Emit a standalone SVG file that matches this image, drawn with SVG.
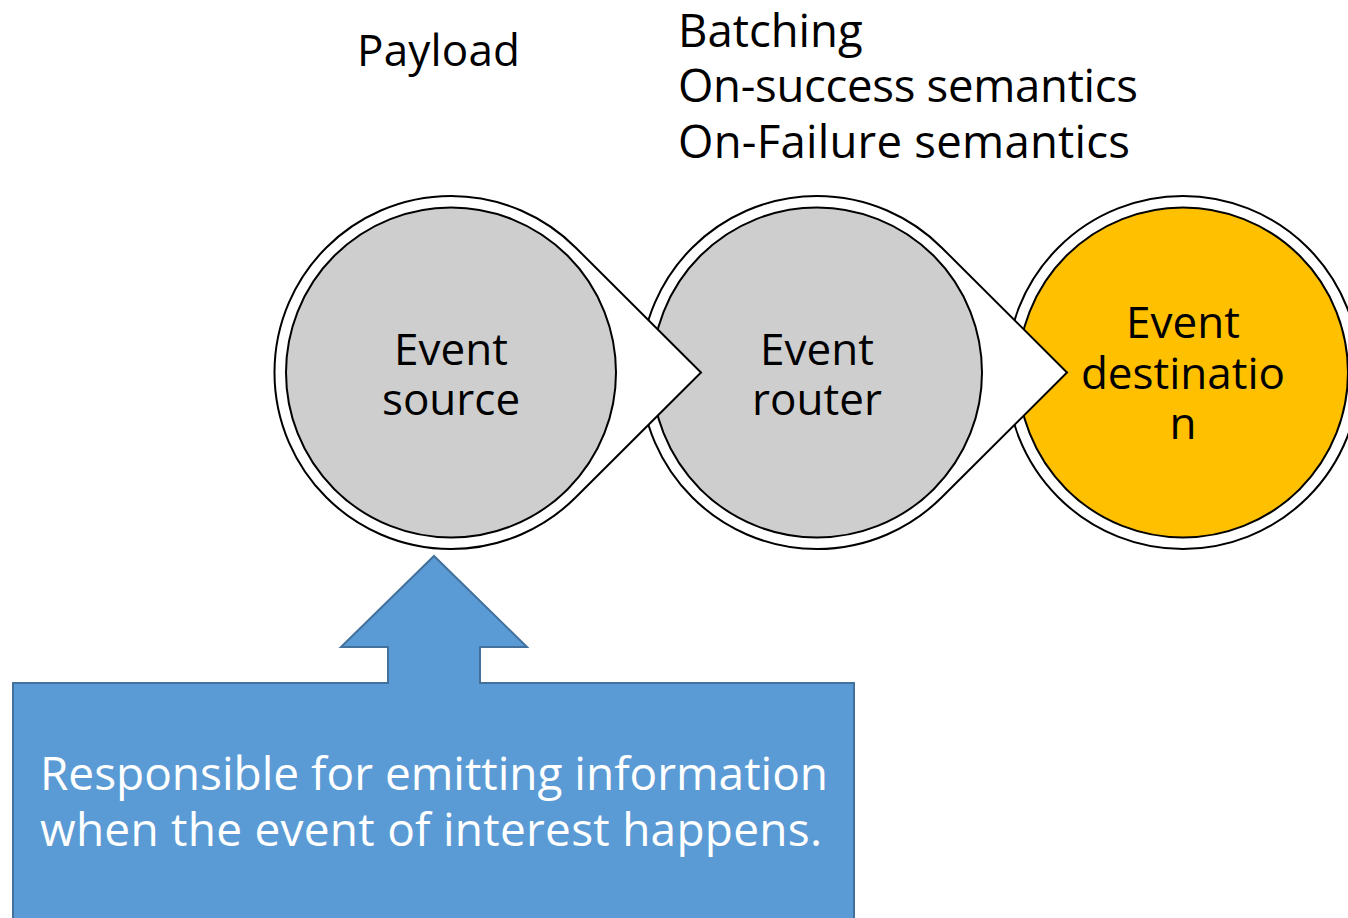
<svg xmlns="http://www.w3.org/2000/svg" width="1348" height="918" viewBox="0 0 1348 918">
<style>
.ring{fill:#ffffff;stroke:#000000;stroke-width:2}
.inner{stroke:#000000;stroke-width:2}
.gray{fill:#cecece}
.gold{fill:#ffc000}
.t{font-family:"Open Sans","Liberation Sans",sans-serif;font-size:44px;fill:#000000}
.top{font-size:45.5px}
.c{text-anchor:middle}
.w{fill:#ffffff;font-size:46px}
</style>
<rect width="1348" height="918" fill="#ffffff"/>
<g id="labels">
<text class="t" x="357" y="66" textLength="163">Payload</text>
<text class="t top" x="678" y="47">Batching</text>
<text class="t top" x="678" y="102" textLength="460">On-success semantics</text>
<text class="t top" x="678" y="158" textLength="452">On-Failure semantics</text>
</g>
<g id="node-destination">
<circle class="ring" cx="1183" cy="372.5" r="176.5"/>
<circle class="inner gold" cx="1183" cy="372.5" r="165"/>
<text class="t c" x="1183" y="338">Event</text>
<text class="t c" x="1183" y="389">destinatio</text>
<text class="t c" x="1183" y="439">n</text>
</g>
<g id="node-router">
<path class="ring" d="M941.8,247.7 L1067,372.5 L941.8,497.3 A176.5,176.5 0 1 1 941.8,247.7 Z"/>
<circle class="inner gray" cx="817" cy="372.5" r="165"/>
<text class="t c" x="817" y="365">Event</text>
<text class="t c" x="817" y="415">router</text>
</g>
<g id="node-source">
<path class="ring" d="M575.8,247.7 L701,372.5 L575.8,497.3 A176.5,176.5 0 1 1 575.8,247.7 Z"/>
<circle class="inner gray" cx="451" cy="372.5" r="165"/>
<text class="t c" x="451" y="365">Event</text>
<text class="t c" x="451" y="415">source</text>
</g>
<g id="callout">
<path d="M13,683 L388,683 L388,647 L341,647 L434,556 L527,647 L480,647 L480,683 L854,683 L854,925 L13,925 Z" fill="#5b9bd5" stroke="#41719c" stroke-width="2"/>
<text class="t w" x="40" y="790" textLength="788">Responsible for emitting information</text>
<text class="t w" x="40" y="846" textLength="782">when the event of interest happens.</text>
</g>
<g id="connectors"></g>
</svg>
